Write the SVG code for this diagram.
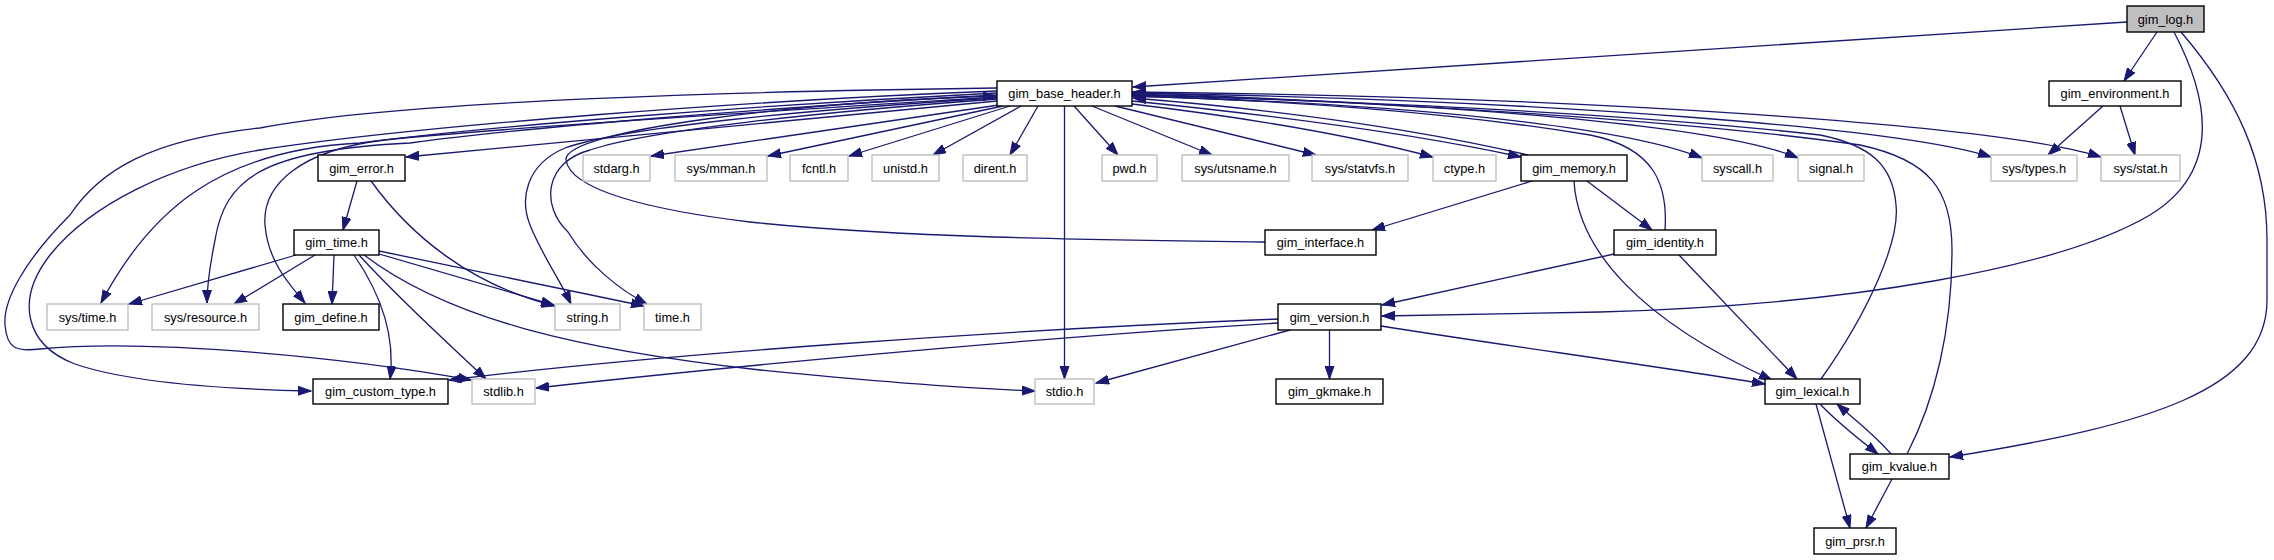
<svg xmlns="http://www.w3.org/2000/svg" width="2274" height="560" viewBox="0 0 2274 560">
<style>
.b{fill:#fff;stroke:#000;stroke-width:1.4}
.g{fill:#fff;stroke:#bfbfbf;stroke-width:1.4}
.r{fill:#bfbfbf;stroke:#000;stroke-width:1.4}
text{font-family:"Liberation Sans",Arial,sans-serif;font-size:12.8px;text-anchor:middle;fill:#000}
.e path{fill:none;stroke:#191970;stroke-width:1.3;marker-end:url(#a)}
</style>
<defs>
<marker id="a" markerUnits="userSpaceOnUse" markerWidth="14" markerHeight="10" refX="13" refY="5" orient="auto">
<path d="M0,0.5 L13,5 L0,9.5 z" fill="#191970" stroke="#191970" stroke-width="1"/>
</marker>
</defs>
<rect width="2274" height="560" fill="#fff"/>
<g class="e" id="edges">
<path d="M2127,22 C1800,43 1400,70 1133,87"/>
<path d="M2157,32 L2124,81"/>
<path d="M2174,32 C2215,110 2215,175 2150,215 C2060,268 1850,305 1600,312 L1382,316"/>
<path d="M2181,32 C2235,95 2267,160 2267,240 L2267,300 C2267,390 2150,425 1950,457"/>
<path d="M997,101 L406,157"/>
<path d="M999,105 L651,156"/>
<path d="M1003,106 L768,156"/>
<path d="M1010,106 L849,156"/>
<path d="M1021,106 L933,155"/>
<path d="M1038,106 L1010,155"/>
<path d="M1074,106 L1118,155"/>
<path d="M1092,106 L1212,155"/>
<path d="M1115,106 L1316,155"/>
<path d="M1064.5,106 L1064.5,379"/>
<path d="M1132,104 C1250,118 1350,135 1433,157"/>
<path d="M1132,101 C1300,118 1420,135 1521,157"/>
<path d="M1528,155 C1420,130 1280,110 1133,98"/>
<path d="M1132,96 C1400,104 1620,125 1702,158"/>
<path d="M1132,95 C1450,103 1720,125 1798,158"/>
<path d="M1132,93 C1550,100 1900,128 1991,157"/>
<path d="M1132,92 C1600,97 2000,125 2101,157"/>
<path d="M997,88 C760,91 400,100 260,128 C150,140 100,170 70,215 C25,260 3,300 5,325 C7,348 15,352 40,349 C150,338 350,358 471,380"/>
<path d="M997,91 C760,100 420,125 260,150 C170,165 90,205 50,255 C15,300 25,345 75,364 C130,383 220,389 311,391"/>
<path d="M997,93 C760,105 500,125 360,143 C220,150 150,210 101,303"/>
<path d="M997,95 C760,108 520,128 410,143 C260,150 225,180 215,240 C210,265 207,285 207,303"/>
<path d="M997,97 C760,112 500,128 385,140 C300,150 262,185 265,225 C268,262 290,285 305,303"/>
<path d="M997,98 C800,110 620,128 565,148 C525,165 520,200 530,225 C542,255 560,280 571,304"/>
<path d="M997,99 C820,112 650,130 590,150 C545,162 540,205 568,232 C588,265 620,290 647,304"/>
<path d="M1265,242 C1100,240 900,238 750,222 C650,210 570,190 566,160 C563,130 800,102 996,96"/>
<path d="M296,255 L129,304"/>
<path d="M315,255 L234,304"/>
<path d="M334,255 L332,304"/>
<path d="M379,254 L554,305"/>
<path d="M379,251 L644,306"/>
<path d="M354,255 C385,300 395,340 390,379"/>
<path d="M359,255 C400,300 450,345 486,379"/>
<path d="M364,255 C450,320 580,350 760,370 C900,384 980,389 1035,391"/>
<path d="M357,181 L343,230"/>
<path d="M371,181 C410,235 470,285 555,306"/>
<path d="M1278,319 C1000,330 650,355 449,380"/>
<path d="M1278,323 C1000,340 700,370 536,388"/>
<path d="M1290,330 L1096,383"/>
<path d="M1329.5,330 L1329.5,379"/>
<path d="M1381,326 C1500,345 1650,365 1765,384"/>
<path d="M1614,254 L1382,305"/>
<path d="M1679,255 L1797,379"/>
<path d="M1665,230 C1668,185 1655,148 1590,135 C1450,112 1280,100 1133,96"/>
<path d="M1532,181 L1372,230"/>
<path d="M1587,181 L1652,230"/>
<path d="M1574,181 C1578,250 1640,320 1772,380"/>
<path d="M1821,379 C1870,310 1900,240 1896,205 C1893,165 1870,145 1820,135 C1600,110 1300,100 1133,94"/>
<path d="M1820,404 C1840,425 1860,440 1878,454"/>
<path d="M1816,404 L1850,528"/>
<path d="M1891,454 C1875,435 1855,420 1837,404"/>
<path d="M1892,479 L1866,528"/>
<path d="M1907,454 C1935,400 1952,330 1952,250 C1952,190 1930,160 1860,145 C1650,115 1300,100 1133,92"/>
<path d="M2103,106 L2048,155"/>
<path d="M2120,106 L2135,155"/>
</g>
<g id="n_gim_log"><rect class="r" x="2127" y="6" width="77" height="26"/><text x="2165.5" y="23.5">gim_log.h</text></g>
<g id="n_gim_base_header"><rect class="b" x="997" y="81" width="135" height="25"/><text x="1064.5" y="98">gim_base_header.h</text></g>
<g id="n_gim_environment"><rect class="b" x="2049" y="81" width="132" height="25"/><text x="2115" y="98">gim_environment.h</text></g>
<g id="n_gim_error"><rect class="b" x="318" y="155" width="87" height="26"/><text x="361.5" y="172.5">gim_error.h</text></g>
<g id="n_stdarg"><rect class="g" x="583" y="155" width="67" height="26"/><text x="616.5" y="172.5">stdarg.h</text></g>
<g id="n_sys_mman"><rect class="g" x="675" y="155" width="92" height="26"/><text x="721" y="172.5">sys/mman.h</text></g>
<g id="n_fcntl"><rect class="g" x="790" y="155" width="58" height="26"/><text x="819" y="172.5">fcntl.h</text></g>
<g id="n_unistd"><rect class="g" x="872" y="155" width="67" height="26"/><text x="905.5" y="172.5">unistd.h</text></g>
<g id="n_dirent"><rect class="g" x="963" y="155" width="64" height="26"/><text x="995" y="172.5">dirent.h</text></g>
<g id="n_pwd"><rect class="g" x="1102" y="155" width="55" height="26"/><text x="1129.5" y="172.5">pwd.h</text></g>
<g id="n_sys_utsname"><rect class="g" x="1182" y="155" width="107" height="26"/><text x="1235.5" y="172.5">sys/utsname.h</text></g>
<g id="n_sys_statvfs"><rect class="g" x="1312" y="155" width="96" height="26"/><text x="1360" y="172.5">sys/statvfs.h</text></g>
<g id="n_ctype"><rect class="g" x="1433" y="155" width="63" height="26"/><text x="1464.5" y="172.5">ctype.h</text></g>
<g id="n_gim_memory"><rect class="b" x="1521" y="155" width="106" height="26"/><text x="1574" y="172.5">gim_memory.h</text></g>
<g id="n_syscall"><rect class="g" x="1702" y="155" width="71" height="26"/><text x="1737.5" y="172.5">syscall.h</text></g>
<g id="n_signal"><rect class="g" x="1798" y="155" width="66" height="26"/><text x="1831" y="172.5">signal.h</text></g>
<g id="n_sys_types"><rect class="g" x="1991" y="155" width="86" height="26"/><text x="2034" y="172.5">sys/types.h</text></g>
<g id="n_sys_stat"><rect class="g" x="2101" y="155" width="79" height="26"/><text x="2140.5" y="172.5">sys/stat.h</text></g>
<g id="n_gim_time"><rect class="b" x="294" y="230" width="85" height="25"/><text x="336.5" y="247">gim_time.h</text></g>
<g id="n_gim_interface"><rect class="b" x="1265" y="230" width="111" height="25"/><text x="1320.5" y="247">gim_interface.h</text></g>
<g id="n_gim_identity"><rect class="b" x="1614" y="230" width="102" height="25"/><text x="1665" y="247">gim_identity.h</text></g>
<g id="n_sys_time"><rect class="g" x="47" y="304" width="81" height="26"/><text x="87.5" y="321.5">sys/time.h</text></g>
<g id="n_sys_resource"><rect class="g" x="152" y="304" width="107" height="26"/><text x="205.5" y="321.5">sys/resource.h</text></g>
<g id="n_gim_define"><rect class="b" x="283" y="304" width="96" height="26"/><text x="331" y="321.5">gim_define.h</text></g>
<g id="n_string"><rect class="g" x="555" y="304" width="65" height="26"/><text x="587.5" y="321.5">string.h</text></g>
<g id="n_time"><rect class="g" x="644" y="304" width="57" height="26"/><text x="672.5" y="321.5">time.h</text></g>
<g id="n_gim_version"><rect class="b" x="1278" y="304" width="103" height="26"/><text x="1329.5" y="321.5">gim_version.h</text></g>
<g id="n_gim_custom_type"><rect class="b" x="313" y="379" width="135" height="25"/><text x="380.5" y="396">gim_custom_type.h</text></g>
<g id="n_stdlib"><rect class="g" x="472" y="379" width="63" height="25"/><text x="503.5" y="396">stdlib.h</text></g>
<g id="n_stdio"><rect class="g" x="1035" y="379" width="59" height="25"/><text x="1064.5" y="396">stdio.h</text></g>
<g id="n_gim_gkmake"><rect class="b" x="1276" y="379" width="107" height="25"/><text x="1329.5" y="396">gim_gkmake.h</text></g>
<g id="n_gim_lexical"><rect class="b" x="1765" y="379" width="95" height="25"/><text x="1812.5" y="396">gim_lexical.h</text></g>
<g id="n_gim_kvalue"><rect class="b" x="1850" y="454" width="99" height="25"/><text x="1899.5" y="471">gim_kvalue.h</text></g>
<g id="n_gim_prsr"><rect class="b" x="1814" y="528" width="82" height="26"/><text x="1855" y="545.5">gim_prsr.h</text></g>
</svg>
